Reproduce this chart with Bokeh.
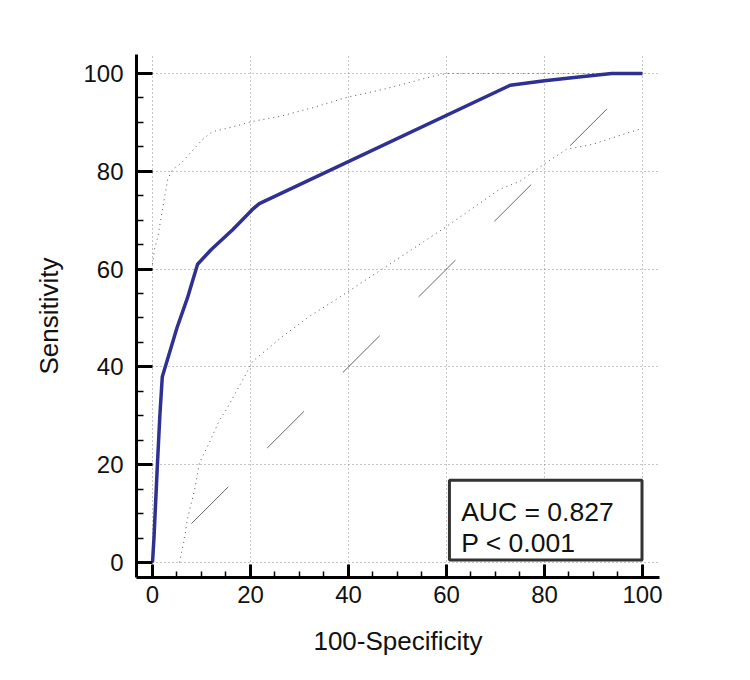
from bokeh.plotting import figure
from bokeh.models import Range1d, FixedTicker, BoxAnnotation, Label
from bokeh.embed import file_html
from bokeh.resources import INLINE

# ROC curve (100-Specificity, Sensitivity)
roc_x = [0, 0.3, 1.0, 1.5, 2.0, 5.0, 7.1, 9.2, 12.0, 16.3, 20.4, 21.8, 73.0, 80.0, 87.0, 93.7, 100]
roc_y = [0, 5, 20, 30, 38, 48, 54, 61, 64, 68, 72.2, 73.4, 97.6, 98.5, 99.3, 100, 100]

# Lower confidence bound
lo_x = [5.5, 6.5, 7.1, 8.6, 9.6, 11.6, 13.7, 15.1, 17.1, 18.8, 20.4, 26.5, 32.0, 37.5,
        48.4, 60.0, 70.8, 74.9, 80.4, 84.5, 89.8, 95.9, 100]
lo_y = [0, 4.7, 8.8, 14.9, 20.4, 24.5, 29.2, 31.3, 35.0, 38.0, 41.1, 46.2, 50.3, 53.8,
        61.0, 68.7, 76.3, 77.9, 81.8, 84.5, 85.5, 87.5, 88.8]

# Upper confidence bound
up_x = [0, 0.4, 1.1, 1.8, 2.5, 3.1, 4.1, 5.9, 10.2, 12.2, 15.7, 20.4, 25.9, 32.7,
        39.6, 46.9, 57.1, 60.0, 100]
up_y = [61, 64, 66.7, 70.8, 74.9, 78.3, 80.4, 81.7, 86.5, 88.1, 88.9, 90.2, 91.2, 93.0,
        95.1, 96.7, 99.4, 100, 100]

# Reference diagonal
diag_x = [0, 100]
diag_y = [0, 100]

tick_values = [0, 20, 40, 60, 80, 100]
auc_text = "AUC = 0.827"
p_text = "P < 0.001"

FONT = "Liberation Sans"

p = figure(width=734, height=664, output_backend="svg", toolbar_location=None,
           x_range=Range1d(-3.265, 103.47), y_range=Range1d(-3.07, 103.88),
           min_border_left=136, min_border_right=75, min_border_top=54, min_border_bottom=87)
p.outline_line_color = None
p.background_fill_color = "white"
p.border_fill_color = "white"

for ax in (p.xaxis[0], p.yaxis[0]):
    ax.ticker = FixedTicker(ticks=tick_values,
                            minor_ticks=[v for v in range(0, 101, 5) if v % 20 != 0])
    ax.axis_line_width = 3
    ax.axis_line_color = "black"
    ax.major_tick_line_width = 3
    ax.major_tick_line_color = "black"
    ax.minor_tick_line_width = 1.5
    ax.minor_tick_line_color = "black"
    ax.major_tick_out = 0
    ax.minor_tick_out = 0
    ax.major_label_text_font = FONT
    ax.major_label_text_font_size = "24px"
    ax.major_label_text_color = "#111111"
    ax.axis_label_text_font = FONT
    ax.axis_label_text_font_size = "26px"
    ax.axis_label_text_font_style = "normal"
    ax.axis_label_text_color = "#111111"

p.xaxis.axis_label = "100-Specificity"
p.yaxis.axis_label = "Sensitivity"
p.xaxis.major_tick_in = 13
p.xaxis.minor_tick_in = 6
p.yaxis.major_tick_in = 16
p.yaxis.minor_tick_in = 7
p.xaxis.major_label_standoff = 8
p.yaxis.major_label_standoff = 13
p.xaxis.axis_label_standoff = 20
p.yaxis.axis_label_standoff = 16

for g in (p.xgrid[0], p.ygrid[0]):
    g.ticker = FixedTicker(ticks=tick_values)
    g.grid_line_color = "#8a8a8a"
    g.grid_line_dash = "1 3"
    g.grid_line_width = 1

# diagonal reference line
p.line(diag_x, diag_y, line_color="#666666", line_width=1,
       line_dash="52 55", line_dash_offset=52)

# confidence bounds
p.line(lo_x, lo_y, line_color="#555555", line_width=1, line_dash="1 4")
p.line(up_x, up_y, line_color="#555555", line_width=1, line_dash="1 4")

# ROC curve
p.line(roc_x, roc_y, line_color="#2E3192", line_width=3.5, line_join="round")

# AUC box
box = BoxAnnotation(left=60.6, right=99.9, bottom=0.5, top=16.8,
                    fill_color="white", fill_alpha=1.0,
                    line_color="#333333", line_alpha=1.0, line_width=3)
p.add_layout(box)
p.add_layout(Label(x=63.0, y=10.3, text=auc_text, text_font=FONT,
                   text_font_size="26.5px", text_color="#111111",
                   text_baseline="alphabetic"))
p.add_layout(Label(x=63.0, y=3.9, text=p_text, text_font=FONT,
                   text_font_size="26.5px", text_color="#111111",
                   text_baseline="alphabetic"))

open("out.html", "w").write(file_html(p, INLINE))
